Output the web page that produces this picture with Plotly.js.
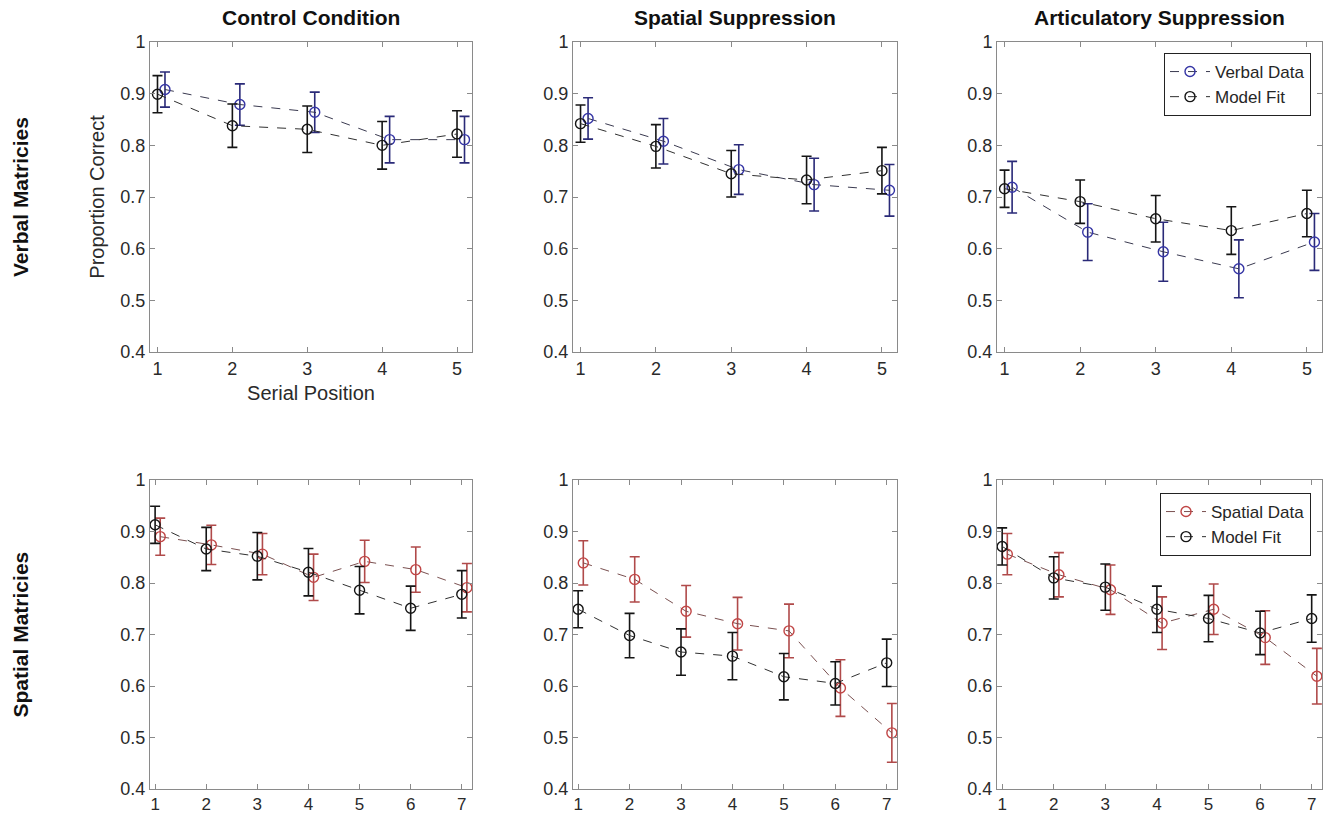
<!DOCTYPE html>
<html>
<head>
<meta charset="utf-8">
<script src="https://cdn.plot.ly/plotly-3.0.1.min.js"></script>
<style>html,body{margin:0;padding:0;background:#fff;}#chart{width:1325px;height:816px;}</style>
</head>
<body>
<div id="chart"></div>
<script>
// ---- Data ----
const columnTitles = ["Control Condition", "Spatial Suppression", "Articulatory Suppression"];
const rowTitles = ["Verbal Matricies", "Spatial Matricies"];
const verbalPositions = [1, 2, 3, 4, 5];
const spatialPositions = [1, 2, 3, 4, 5, 6, 7];

// Verbal matrices
const verbalControlData = [0.908, 0.879, 0.864, 0.811, 0.811];
const verbalControlDataErr = [0.034, 0.040, 0.039, 0.045, 0.045];
const verbalControlFit = [0.899, 0.838, 0.831, 0.800, 0.822];
const verbalControlFitErr = [0.036, 0.042, 0.045, 0.046, 0.045];

const verbalSpatialData = [0.852, 0.808, 0.753, 0.724, 0.713];
const verbalSpatialDataErr = [0.040, 0.044, 0.048, 0.051, 0.050];
const verbalSpatialFit = [0.842, 0.798, 0.745, 0.733, 0.751];
const verbalSpatialFitErr = [0.036, 0.042, 0.045, 0.046, 0.045];

const verbalArticData = [0.719, 0.632, 0.594, 0.561, 0.613];
const verbalArticDataErr = [0.050, 0.055, 0.057, 0.056, 0.055];
const verbalArticFit = [0.716, 0.691, 0.658, 0.635, 0.668];
const verbalArticFitErr = [0.036, 0.042, 0.045, 0.046, 0.045];

// Spatial matrices
const spatialControlData = [0.890, 0.874, 0.856, 0.811, 0.842, 0.826, 0.791];
const spatialControlDataErr = [0.036, 0.038, 0.040, 0.045, 0.041, 0.044, 0.047];
const spatialControlFit = [0.913, 0.866, 0.852, 0.821, 0.786, 0.751, 0.778];
const spatialControlFitErr = [0.036, 0.042, 0.046, 0.046, 0.046, 0.043, 0.046];

const spatialSpatialData = [0.839, 0.807, 0.745, 0.721, 0.707, 0.596, 0.509];
const spatialSpatialDataErr = [0.043, 0.044, 0.050, 0.051, 0.052, 0.055, 0.057];
const spatialSpatialFit = [0.749, 0.698, 0.666, 0.658, 0.618, 0.605, 0.645];
const spatialSpatialFitErr = [0.036, 0.043, 0.045, 0.046, 0.045, 0.042, 0.046];

const spatialArticData = [0.856, 0.816, 0.787, 0.722, 0.749, 0.694, 0.619];
const spatialArticDataErr = [0.040, 0.043, 0.048, 0.051, 0.049, 0.052, 0.054];
const spatialArticFit = [0.871, 0.810, 0.792, 0.749, 0.731, 0.703, 0.731];
const spatialArticFitErr = [0.036, 0.041, 0.045, 0.045, 0.045, 0.042, 0.046];

const yTickVals = [0.4, 0.5, 0.6, 0.7, 0.8, 0.9, 1];
const yTickText = ["0.4", "0.5", "0.6", "0.7", "0.8", "0.9", "1"];

// ---- Styling ----
const FONT = "Liberation Sans, Arial, Helvetica, sans-serif";
const dataOffset = 0.1;
const blue = {marker: "#3535a5", err: "#2a2a78", line: "#3a3a50", name: "Verbal Data"};
const red = {marker: "#c04545", err: "#b04a4a", line: "#7a5050", name: "Spatial Data"};
const black = {marker: "#151515", err: "#151515", line: "#303030", name: "Model Fit"};

const panels = [
  {row: 0, col: 0, x: verbalPositions, data: verbalControlData, dataErr: verbalControlDataErr, fit: verbalControlFit, fitErr: verbalControlFitErr, c: blue},
  {row: 0, col: 1, x: verbalPositions, data: verbalSpatialData, dataErr: verbalSpatialDataErr, fit: verbalSpatialFit, fitErr: verbalSpatialFitErr, c: blue},
  {row: 0, col: 2, x: verbalPositions, data: verbalArticData, dataErr: verbalArticDataErr, fit: verbalArticFit, fitErr: verbalArticFitErr, c: blue, legend: "legend"},
  {row: 1, col: 0, x: spatialPositions, data: spatialControlData, dataErr: spatialControlDataErr, fit: spatialControlFit, fitErr: spatialControlFitErr, c: red},
  {row: 1, col: 1, x: spatialPositions, data: spatialSpatialData, dataErr: spatialSpatialDataErr, fit: spatialSpatialFit, fitErr: spatialSpatialFitErr, c: red},
  {row: 1, col: 2, x: spatialPositions, data: spatialArticData, dataErr: spatialArticDataErr, fit: spatialArticFit, fitErr: spatialArticFitErr, c: red, legend: "legend2"}
];

const W = 1325, H = 816;
const colPx = [[150, 472], [573, 897], [997, 1322]];
const rowPx = [[42, 352], [480, 789]];

const traces = [];
const layout = {
  width: W, height: H,
  margin: {l: 0, r: 0, t: 0, b: 0},
  paper_bgcolor: "#fff", plot_bgcolor: "#fff",
  font: {family: FONT, color: "#262626", size: 18},
  showlegend: true,
  annotations: []
};

panels.forEach((p, i) => {
  const n = i + 1;
  const xa = n === 1 ? "x" : "x" + n;
  const ya = n === 1 ? "y" : "y" + n;
  const xk = n === 1 ? "xaxis" : "xaxis" + n;
  const yk = n === 1 ? "yaxis" : "yaxis" + n;
  const xmax = p.x.length + 0.2;
  const axCommon = {
    showgrid: false, zeroline: false,
    showline: true, linecolor: "#8a8a8a", linewidth: 1, mirror: "ticks",
    ticks: "inside", ticklen: 5, tickcolor: "#8a8a8a", tickwidth: 1,
    tickfont: {family: FONT, size: 18, color: "#2a2a2a"}
  };
  layout[xk] = Object.assign({}, axCommon, {
    domain: [colPx[p.col][0] / W, colPx[p.col][1] / W],
    range: [0.9, xmax], tickvals: p.x, anchor: ya
  });
  if (p.row === 1) layout[xk].tickfont = {family: FONT, size: 17, color: "#2a2a2a"};
  layout[yk] = Object.assign({}, axCommon, {
    domain: [1 - rowPx[p.row][1] / H, 1 - rowPx[p.row][0] / H],
    range: [0.4, 1], tickvals: yTickVals, ticktext: yTickText, anchor: xa
  });
  if (n === 1) {
    layout[xk].title = {text: "Serial Position", font: {family: FONT, size: 20, color: "#2a2a2a"}, standoff: 8};
    layout[yk].title = {text: "Proportion Correct", font: {family: FONT, size: 20, color: "#2a2a2a"}, standoff: 10};
  }
  const showLeg = !!p.legend;
  traces.push({
    type: "scatter", mode: "lines+markers",
    x: p.x.map(v => v + dataOffset), y: p.data,
    xaxis: xa, yaxis: ya,
    name: p.c.name, showlegend: showLeg, legend: p.legend || "legend",
    line: {color: p.c.line, width: 1, dash: "dash"},
    marker: {symbol: "circle-open", size: 10, color: p.c.marker, line: {width: 1.4, color: p.c.marker}},
    error_y: {type: "data", array: p.dataErr, visible: true, color: p.c.err, thickness: 1.6, width: 5}
  });
  traces.push({
    type: "scatter", mode: "lines+markers",
    x: p.x, y: p.fit,
    xaxis: xa, yaxis: ya,
    name: black.name, showlegend: showLeg, legend: p.legend || "legend",
    line: {color: black.line, width: 1, dash: "dash"},
    marker: {symbol: "circle-open", size: 10, color: black.marker, line: {width: 1.4, color: black.marker}},
    error_y: {type: "data", array: p.fitErr, visible: true, color: black.err, thickness: 1.6, width: 5}
  });
});

const legCommon = {
  xanchor: "right", yanchor: "top",
  bgcolor: "#fff", bordercolor: "#222", borderwidth: 1,
  font: {family: FONT, size: 17, color: "#262626"},
  tracegroupgap: 0, itemwidth: 40
};
layout.legend = Object.assign({}, legCommon, {x: 1311 / W, y: 1 - 53 / H});
layout.legend2 = Object.assign({}, legCommon, {x: 1311 / W, y: 1 - 493 / H});

columnTitles.forEach((t, c) => {
  layout.annotations.push({
    text: "<b>" + t + "</b>", xref: "paper", yref: "paper",
    x: (colPx[c][0] + colPx[c][1]) / 2 / W, y: 1 - 17 / H,
    xanchor: "center", yanchor: "middle", showarrow: false,
    font: {family: FONT, size: 21, color: "#111"}
  });
});
rowTitles.forEach((t, r) => {
  layout.annotations.push({
    text: "<b>" + t + "</b>", xref: "paper", yref: "paper",
    x: 20 / W, y: 1 - (rowPx[r][0] + rowPx[r][1]) / 2 / H,
    xanchor: "center", yanchor: "middle", showarrow: false, textangle: -90,
    font: {family: FONT, size: 21, color: "#111"}
  });
});

Plotly.newPlot("chart", traces, layout, {displayModeBar: false, staticPlot: true});
</script>
</body>
</html>
